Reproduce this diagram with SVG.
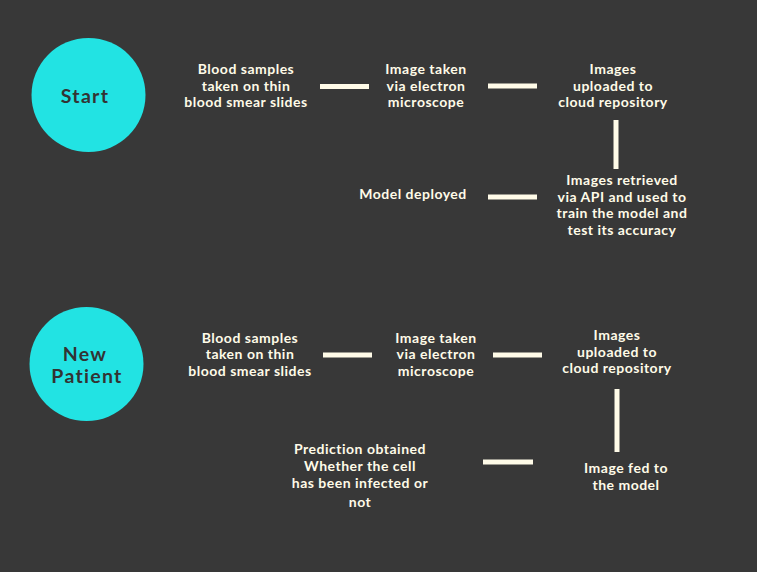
<svg xmlns="http://www.w3.org/2000/svg" width="757" height="572" viewBox="0 0 757 572">
<style>
.bg{fill:#383838}
.circ{fill:#22e3e3}
.ct{font-family:Lato,"Liberation Sans",sans-serif;font-weight:bold;font-size:19.5px;fill:#333333;text-anchor:middle;letter-spacing:1.3px}
.t{font-family:Lato,"Liberation Sans",sans-serif;font-weight:bold;font-size:14px;fill:#fffbe8;text-anchor:middle;letter-spacing:0.5px}
.c{stroke:#fffbe8;stroke-width:5;fill:none}
</style>
<rect class="bg" x="0" y="0" width="757" height="572"/>
<g id="connectors">
<line class="c" x1="320" y1="86.5" x2="369" y2="86.5"/>
<line class="c" x1="488" y1="86" x2="537" y2="86"/>
<line class="c" x1="616" y1="120" x2="616" y2="169"/>
<line class="c" x1="488" y1="197" x2="537" y2="197"/>
<line class="c" x1="323" y1="355" x2="372" y2="355"/>
<line class="c" x1="493" y1="355" x2="542" y2="355"/>
<line class="c" x1="617" y1="389" x2="617" y2="452"/>
<line class="c" x1="483" y1="462" x2="533" y2="462"/>
</g>
<g id="start">
<circle class="circ" cx="88.5" cy="95" r="57"/>
<text class="ct" x="85" y="103">Start</text>
</g>
<g id="blood1">
<text class="t" x="246" y="74">Blood samples</text>
<text class="t" x="246" y="91">taken on thin</text>
<text class="t" x="246" y="107">blood smear slides</text>
</g>
<g id="image1">
<text class="t" x="426" y="74">Image taken</text>
<text class="t" x="426" y="91">via electron</text>
<text class="t" x="426" y="107">microscope</text>
</g>
<g id="upload1">
<text class="t" x="613" y="74">Images</text>
<text class="t" x="613" y="91">uploaded to</text>
<text class="t" x="613" y="107">cloud repository</text>
</g>
<g id="retrieve">
<text class="t" x="622" y="185">Images retrieved</text>
<text class="t" x="622" y="202">via API and used to</text>
<text class="t" x="622" y="218">train the model and</text>
<text class="t" x="622" y="235">test its accuracy</text>
</g>
<g id="deployed">
<text class="t" x="413" y="199">Model deployed</text>
</g>
<g id="newpatient">
<circle class="circ" cx="86.5" cy="364" r="57"/>
<text class="ct" x="85" y="361">New</text>
<text class="ct" x="87" y="383">Patient</text>
</g>
<g id="blood2">
<text class="t" x="250" y="343">Blood samples</text>
<text class="t" x="250" y="359">taken on thin</text>
<text class="t" x="250" y="376">blood smear slides</text>
</g>
<g id="image2">
<text class="t" x="436" y="343">Image taken</text>
<text class="t" x="436" y="359">via electron</text>
<text class="t" x="436" y="376">microscope</text>
</g>
<g id="upload2">
<text class="t" x="617" y="340">Images</text>
<text class="t" x="617" y="357">uploaded to</text>
<text class="t" x="617" y="373">cloud repository</text>
</g>
<g id="fed">
<text class="t" x="626" y="473">Image fed to</text>
<text class="t" x="626" y="490">the model</text>
</g>
<g id="prediction">
<text class="t" x="360" y="454">Prediction obtained</text>
<text class="t" x="360" y="471">Whether the cell</text>
<text class="t" x="360" y="488">has been infected or</text>
<text class="t" x="360" y="507">not</text>
</g>
</svg>
